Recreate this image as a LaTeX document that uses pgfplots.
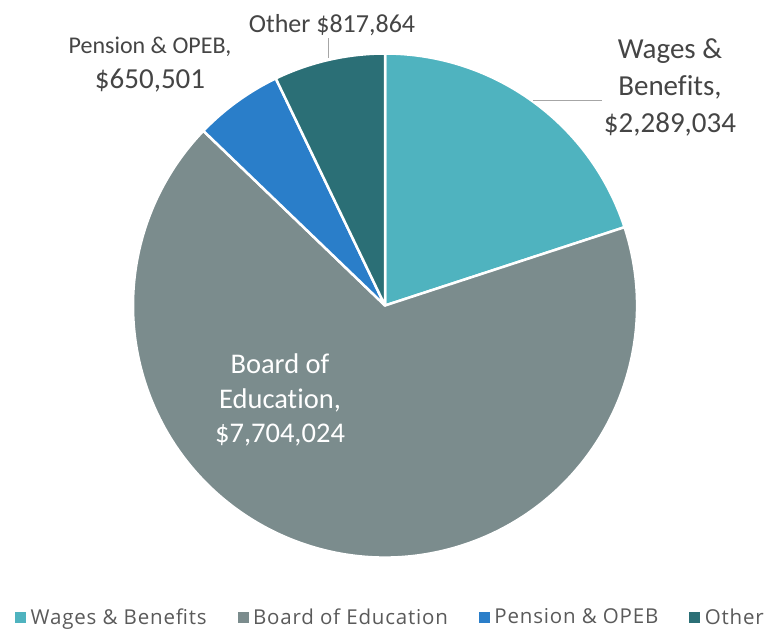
\documentclass[border=0pt]{standalone}
\usepackage{pgfplots}
\pgfplotsset{compat=1.18}
\usepackage{pgfplotstable}
\usepackage{fontspec}
\setmainfont{Carlito}[Ligatures=NoCommon]
\newfontfamily\legfont{Open Sans}[LetterSpace=4]
\definecolor{cW}{HTML}{4FB3BF}
\definecolor{cB}{HTML}{7B8C8D}
\definecolor{cP}{HTML}{2A7EC9}
\definecolor{cO}{HTML}{2B6F76}
\definecolor{txt}{HTML}{454545}
\definecolor{legtxt}{HTML}{5A5A5A}
\definecolor{lead}{HTML}{A6A6A6}

\pgfplotstableread{
value
2289034
7704024
650501
817864
}\piedata
\pgfplotstablegetelem{0}{value}\of\piedata \let\vA\pgfplotsretval
\pgfplotstablegetelem{1}{value}\of\piedata \let\vB\pgfplotsretval
\pgfplotstablegetelem{2}{value}\of\piedata \let\vC\pgfplotsretval
\pgfplotstablegetelem{3}{value}\of\piedata \let\vD\pgfplotsretval
\edef\tot{\fpeval{\vA+\vB+\vC+\vD}}
\edef\aA{\fpeval{90-360*\vA/\tot}}
\edef\aB{\fpeval{\aA-360*\vB/\tot}}
\edef\aC{\fpeval{\aB-360*\vC/\tot}}
\edef\aD{\fpeval{\aC-360*\vD/\tot}}

\begin{document}
\begin{tikzpicture}
\begin{axis}[
  width=773pt, height=630pt, scale only axis,
  xmin=0, xmax=773, ymin=0, ymax=630, y dir=reverse,
  hide axis, clip=false,
  legend columns=4,
  legend style={at={(axis cs:390.5,617)}, anchor=center, draw=none, fill=none,
    font=\legfont\fontsize{20.5}{24}\selectfont, text=legtxt,
    /tikz/every even column/.append style={column sep=29pt}},
  legend image code/.code={\fill[#1] (0pt,-5pt) rectangle (10pt,5pt); \path (13pt,0pt);},
]
\addlegendimage{cW}\addlegendentry{Wages \& Benefits}
\addlegendimage{cB}\addlegendentry{Board of Education}
\addlegendimage{cP}\addlegendentry{Pension \& OPEB}
\addlegendimage{cO}\addlegendentry{Other}

\path (rel axis cs:0,0) rectangle (rel axis cs:1,1);

\filldraw[fill=cW, draw=white, line width=2.5pt, line join=round]
  (axis cs:385,305.5) -- ++(90:252pt) arc[start angle=90, end angle=\aA, radius=252pt] -- cycle;
\filldraw[fill=cB, draw=white, line width=2.5pt, line join=round]
  (axis cs:385,305.5) -- ++(\aA:252pt) arc[start angle=\aA, end angle=\aB, radius=252pt] -- cycle;
\filldraw[fill=cP, draw=white, line width=2.5pt, line join=round]
  (axis cs:385,305.5) -- ++(\aB:252pt) arc[start angle=\aB, end angle=\aC, radius=252pt] -- cycle;
\filldraw[fill=cO, draw=white, line width=2.5pt, line join=round]
  (axis cs:385,305.5) -- ++(\aC:252pt) arc[start angle=\aC, end angle=\aD, radius=252pt] -- cycle;

% leader lines
\draw[lead, line width=1pt] (axis cs:533,100) -- (axis cs:602,100);
\draw[lead, line width=1pt] (axis cs:328,38) -- (axis cs:328,58);

% labels
\begin{scope}[every node/.style={inner sep=0pt, anchor=base, text=txt}]
\node[font=\fontsize{29}{35}\selectfont] at (axis cs:670,58) {Wages \&};
\node[font=\fontsize{29}{35}\selectfont] at (axis cs:670,95) {Benefits,};
\node[font=\fontsize{29}{35}\selectfont] at (axis cs:670,132) {\$2,289,034};
\node[font=\fontsize{24}{29}\selectfont] at (axis cs:150,53) {Pension \& OPEB,};
\node[font=\fontsize{29}{35}\selectfont] at (axis cs:150,88) {\$650,501};
\node[font=\fontsize{26}{31}\selectfont] at (axis cs:332,32) {Other \$817,864};
\node[font=\fontsize{28.5}{34}\selectfont, text=white] at (axis cs:280,373) {Board of};
\node[font=\fontsize{28.5}{34}\selectfont, text=white] at (axis cs:280,408) {Education,};
\node[font=\fontsize{28.5}{34}\selectfont, text=white] at (axis cs:280,442) {\$7,704,024};
\end{scope}
\end{axis}
\end{tikzpicture}
\end{document}
